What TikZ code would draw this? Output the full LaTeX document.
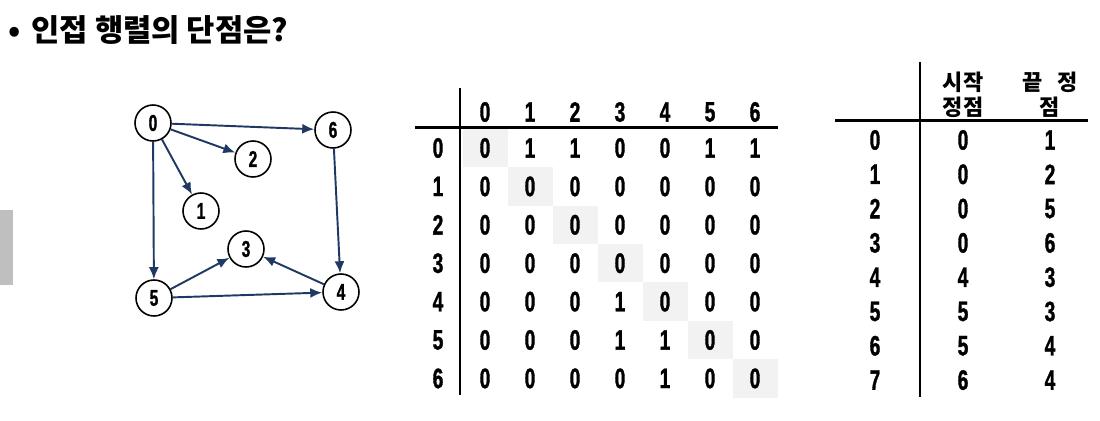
\documentclass[tikz,border=0pt]{standalone}
\usepackage{fontspec}
\setmainfont{Liberation Sans}
\newfontfamily\numfont{Liberation Sans}[FakeStretch=0.68, BoldFeatures={FakeBold=1.2}]
\newfontfamily\krfont{Noto Sans CJK KR}
\usetikzlibrary{arrows.meta}

\definecolor{edgeblue}{RGB}{32,56,100}
\definecolor{diaggray}{RGB}{242,242,242}
\definecolor{sidegray}{RGB}{191,191,191}

\tikzset{
  vertex/.style={circle, draw, line width=0.9pt, minimum size=0.72cm, inner sep=0pt,
    font=\numfont\bfseries\fontsize{13}{13}\selectfont},
  edge/.style={draw=edgeblue, line width=1.1pt, -{Latex[length=2.4mm,width=2mm]}},
  cell/.style={inner sep=0pt, font=\numfont\bfseries\fontsize{16}{16}\selectfont},
  tableline/.style={line width=1.7pt},
  krhead/.style={align=center, inner sep=0pt, font=\krfont\bfseries\fontsize{12.5}{14}\selectfont},
}

\begin{document}
\begin{tikzpicture}[x=0.02cm, y=-0.02cm]
\useasboundingbox (0,0) rectangle (1100,421);

\fill [sidegray] (0,210) rectangle (13,285);

\node [anchor=west, inner sep=0pt, font=\krfont\bfseries\fontsize{17.5}{17.5}\selectfont] (title) at (8,30) {•\hspace{0.35em}인접 행렬의 단점은?};

% graph
\node [vertex] (v0) at (153,123) {0};
\node [vertex] (v6) at (333,130) {6};
\node [vertex] (v2) at (253,159) {2};
\node [vertex] (v1) at (201,211) {1};
\node [vertex] (v3) at (246,249) {3};
\node [vertex] (v5) at (154,298) {5};
\node [vertex] (v4) at (341,292) {4};

\draw [edge] (v0) -- (v6);
\draw [edge] (v0) -- (v2);
\draw [edge] (v0) -- (v1);
\draw [edge] (v0) -- (v5);
\draw [edge] (v6) -- (v4);
\draw [edge] (v5) -- (v3);
\draw [edge] (v4) -- (v3);
\draw [edge] (v5) -- (v4);

% adjacency matrix
\foreach \i in {0,...,6}
  \fill [diaggray] ({462.5+45*\i},{128.8+38.4*\i}) rectangle ++(45,38.4);

\draw [tableline] (460,88) -- (460,395);
\draw [tableline] (415,128) -- (778,128);

\foreach \c in {0,...,6}
  \node [cell] (mh-\c) at ({485+45*\c},112) {\c};

\foreach \row [count=\r from 0] in {{0,1,1,0,0,1,1},{0,0,0,0,0,0,0},{0,0,0,0,0,0,0},
    {0,0,0,0,0,0,0},{0,0,0,1,0,0,0},{0,0,0,1,1,0,0},{0,0,0,0,1,0,0}} {
  \node [cell] (mr-\r) at (438,{148+38.4*\r}) {\r};
  \foreach \val [count=\c from 0] in \row
    \node [cell] (m-\r-\c) at ({485+45*\c},{148+38.4*\r}) {\val};
}

% edge list
\draw [tableline] (920,62) -- (920,397);
\draw [tableline] (835,121) -- (1088,121);

\node [krhead] (hstart) at (963,94.5) {시작\\정점};
\node [krhead] (hend) at (1050,94.5) {끝\hspace{0.7em}정\\점};

\foreach \a/\b [count=\k from 0] in {0/1,0/2,0/5,0/6,4/3,5/3,5/4,6/4} {
  \node [cell] (er-\k) at (875,{140+34.3*\k}) {\k};
  \node [cell] (es-\k) at (963,{140+34.3*\k}) {\a};
  \node [cell] (ee-\k) at (1050,{140+34.3*\k}) {\b};
}
\end{tikzpicture}
\end{document}
